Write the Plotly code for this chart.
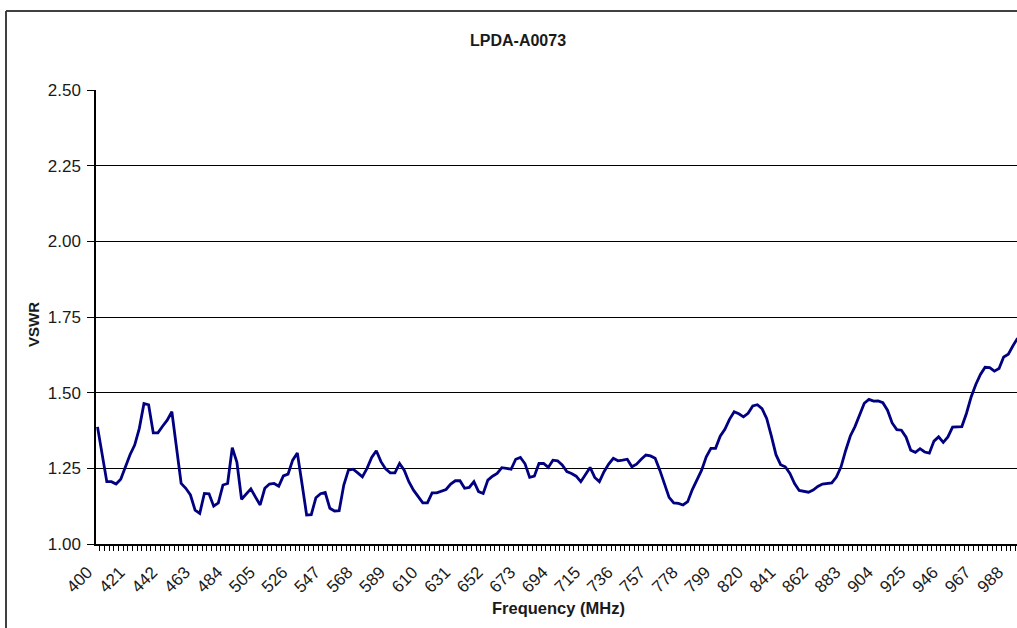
import plotly.graph_objects as go

# Frequency categories (MHz), one sample every 3 MHz
freqs = list(range(400, 995, 3))

# VSWR values
vswr = [
    1.387, 1.290, 1.206, 1.206, 1.198, 1.214, 1.255, 1.295, 1.327, 1.382,
    1.464, 1.460, 1.367, 1.367, 1.389, 1.409, 1.437, 1.320, 1.200, 1.184,
    1.162, 1.112, 1.101, 1.167, 1.166, 1.125, 1.136, 1.195, 1.200, 1.318,
    1.270, 1.148, 1.165, 1.182, 1.155, 1.129, 1.184, 1.198, 1.200, 1.191,
    1.225, 1.231, 1.277, 1.301, 1.200, 1.096, 1.097, 1.153, 1.166, 1.170,
    1.118, 1.109, 1.110, 1.195, 1.244, 1.247, 1.235, 1.222, 1.250, 1.286,
    1.308, 1.272, 1.248, 1.235, 1.235, 1.266, 1.244, 1.206, 1.178, 1.156,
    1.136, 1.136, 1.169, 1.169, 1.175, 1.180, 1.198, 1.209, 1.209, 1.184,
    1.187, 1.206, 1.173, 1.167, 1.211, 1.224, 1.233, 1.252, 1.250, 1.247,
    1.280, 1.286, 1.265, 1.220, 1.224, 1.266, 1.266, 1.253, 1.277, 1.275,
    1.261, 1.239, 1.233, 1.224, 1.206, 1.228, 1.253, 1.220, 1.206, 1.239,
    1.264, 1.283, 1.275, 1.277, 1.280, 1.255, 1.264, 1.280, 1.294, 1.291,
    1.283, 1.244, 1.198, 1.154, 1.136, 1.134, 1.129, 1.140, 1.180, 1.214,
    1.244, 1.288, 1.316, 1.316, 1.356, 1.379, 1.412, 1.437, 1.430, 1.420,
    1.432, 1.456, 1.460, 1.447, 1.415, 1.357, 1.295, 1.262, 1.255, 1.233,
    1.200, 1.177, 1.173, 1.171, 1.178, 1.190, 1.198, 1.200, 1.202, 1.221,
    1.255, 1.309, 1.357, 1.388, 1.424, 1.465, 1.478, 1.472, 1.473, 1.467,
    1.442, 1.400, 1.378, 1.376, 1.353, 1.310, 1.303, 1.315, 1.304, 1.300,
    1.340, 1.354, 1.336, 1.354, 1.386, 1.386, 1.388, 1.432, 1.486, 1.527,
    1.560, 1.584, 1.583, 1.571, 1.580, 1.618, 1.627, 1.655, 1.680,
]

# Axis tick labels
x_tick_vals = list(range(400, 995, 21))
x_tick_text = [str(v) for v in x_tick_vals]
y_tick_vals = [1.00, 1.25, 1.50, 1.75, 2.00, 2.25, 2.50]
y_tick_text = ["1.00", "1.25", "1.50", "1.75", "2.00", "2.25", "2.50"]

title_text = "LPDA-A0073"
x_title = "Frequency (MHz)"
y_title = "VSWR"

FONT = "Liberation Sans, Arial, sans-serif"
W, H = 1017, 628
ML, MR, MT, MB = 96, 0, 90, 84
PW, PH = W - ML - MR, H - MT - MB


def px(x):
    return (x - ML) / PW


def py(y):
    return (H - MB - y) / PH


fig = go.Figure(
    go.Scatter(
        x=freqs,
        y=vswr,
        mode="lines",
        line=dict(color="#000080", width=2.8),
        hoverinfo="skip",
    )
)

fig.update_layout(
    width=W,
    height=H,
    margin=dict(l=ML, r=MR, t=MT, b=MB, pad=0),
    paper_bgcolor="white",
    plot_bgcolor="white",
    showlegend=False,
    font=dict(family=FONT, color="#1a1a1a", size=16),
    xaxis=dict(
        range=[399.03, 993.6],
        tickmode="array",
        tickvals=x_tick_vals,
        ticktext=x_tick_text,
        tickangle=-45,
        ticks="",
        ticklabelstandoff=10,
        ticklabelshift=-10,
        ticklabeloverflow="allow",
        showgrid=False,
        zeroline=False,
        showline=True,
        linecolor="black",
        linewidth=1.5,
        tickfont=dict(family=FONT, size=17, color="#1a1a1a"),
        minor=dict(
            tickmode="linear",
            tick0=398.5,
            dtick=3,
            ticks="outside",
            ticklen=5,
            tickwidth=1,
            tickcolor="black",
            showgrid=False,
        ),
    ),
    yaxis=dict(
        range=[1.0, 2.5],
        tickmode="array",
        tickvals=y_tick_vals,
        ticktext=y_tick_text,
        ticks="outside",
        ticklen=7,
        tickwidth=1,
        tickcolor="black",
        ticklabelstandoff=3,
        showgrid=True,
        gridcolor="black",
        gridwidth=1,
        zeroline=False,
        showline=True,
        linecolor="black",
        linewidth=1.5,
        tickfont=dict(family=FONT, size=17, color="#1a1a1a"),
    ),
    annotations=[
        dict(text="<b>%s</b>" % title_text, xref="paper", yref="paper",
             x=px(518), y=py(40), xanchor="center", yanchor="middle",
             showarrow=False, font=dict(family=FONT, size=16, color="#1a1a1a")),
        dict(text="<b>%s</b>" % x_title, xref="paper", yref="paper",
             x=px(558), y=py(608), xanchor="center", yanchor="middle",
             showarrow=False, font=dict(family=FONT, size=16.5, color="#1a1a1a")),
        dict(text="<b>%s</b>" % y_title, xref="paper", yref="paper",
             x=px(33), y=py(325), xanchor="center", yanchor="middle",
             textangle=-90, showarrow=False,
             font=dict(family=FONT, size=15, color="#1a1a1a")),
    ],
    shapes=[
        dict(type="line", xref="paper", yref="paper",
             x0=px(6), x1=px(6), y0=py(640), y1=py(11),
             line=dict(color="#404040", width=2)),
        dict(type="line", xref="paper", yref="paper",
             x0=px(6), x1=px(1030), y0=py(11), y1=py(11),
             line=dict(color="#404040", width=2)),
    ],
)

fig.write_html(
    "out.html",
    config={"displayModeBar": False},
    post_script="document.body.style.margin='0';document.body.style.overflow='hidden';",
)
